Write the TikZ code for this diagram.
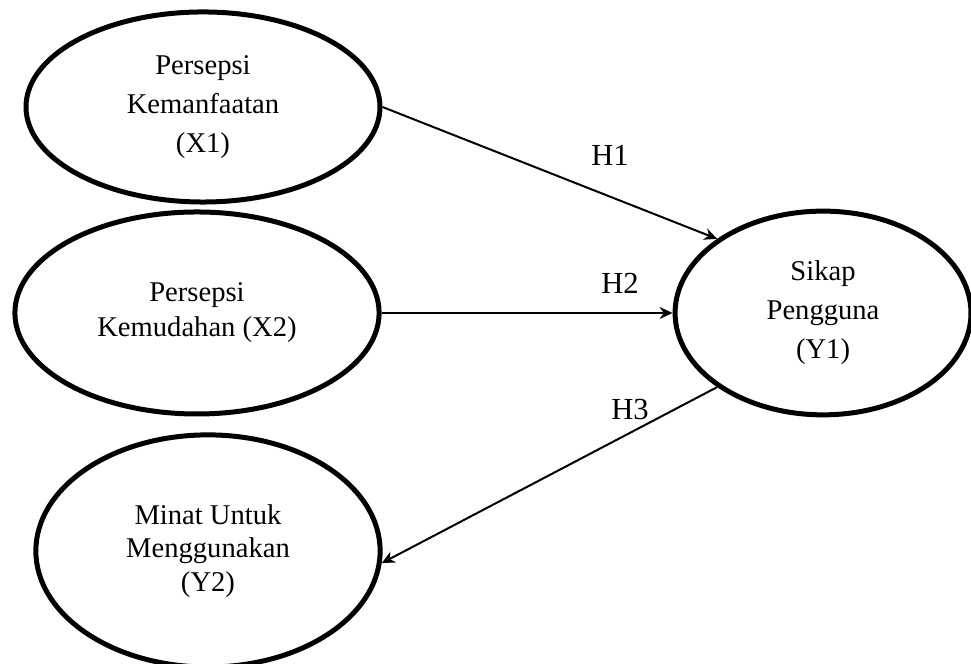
\documentclass[tikz,border=0pt]{standalone}
\usepackage{fontspec}
\setmainfont{Liberation Serif}
\usetikzlibrary{shapes.geometric,arrows.meta}

\begin{document}
\begin{tikzpicture}[
    var/.style={draw, ellipse, line width=2.5pt, inner sep=0pt, align=center,
      font=\fontsize{14.3}{19.5}\selectfont},
    hyp/.style={font=\fontsize{15.3}{17}\selectfont},
    link/.style={line width=1pt, -{Stealth[length=6.5pt,width=6pt]}}
  ]
    \useasboundingbox (0, 0) rectangle (17.063, 11.668);
    \node[var, minimum width=6.22cm, minimum height=3.34cm] (x1) at (3.567, 9.788) {Persepsi\\Kemanfaatan\\(X1)};
    \node[var, minimum width=6.40cm, minimum height=3.55cm, font=\fontsize{14.3}{17.5}\selectfont] (x2) at (3.462, 6.168) {Persepsi\\Kemudahan (X2)};
    \node[var, minimum width=5.20cm, minimum height=3.58cm] (y1) at (14.463, 6.168) {Sikap\\Pengguna\\(Y1)};
    \node[var, minimum width=6.05cm, minimum height=4.08cm, font=\fontsize{14.3}{16.75}\selectfont] (y2) at (3.655, 1.986) {Minat Untuk\\Menggunakan\\(Y2)};
    \draw[link] (x1.east) -- (y1.145);
    \draw[link] (x2.east) -- (y1.west);
    \draw[link] (y1.215) -- (y2.-4);
    \node[hyp] (h1) at (10.72, 8.945) {H1};
    \node[hyp] (h2) at (10.895, 6.695) {H2};
    \node[hyp] (h3) at (11.071, 4.464) {H3};
  \end{tikzpicture}
\end{document}
